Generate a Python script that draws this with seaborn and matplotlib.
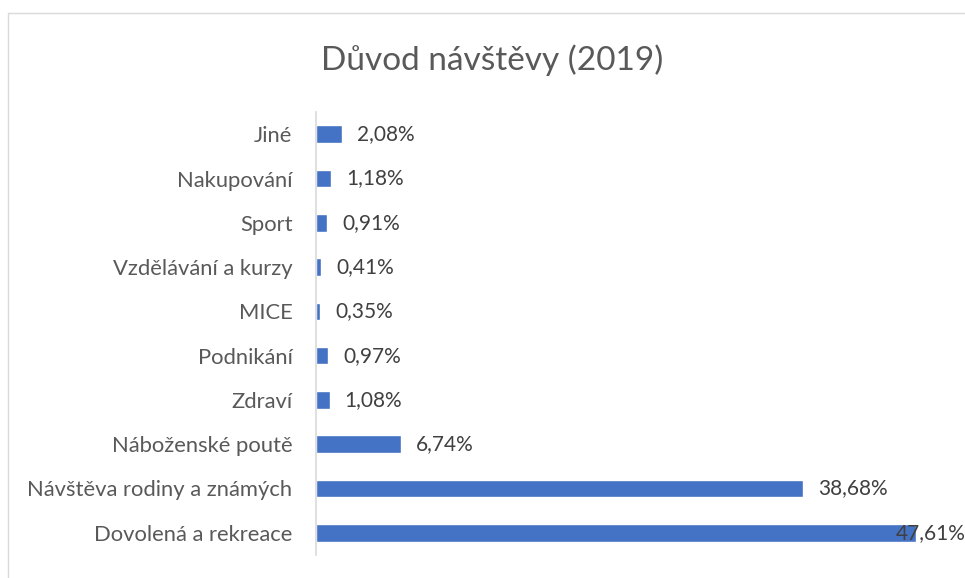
import pandas as pd
import seaborn as sns
import matplotlib.pyplot as plt
from matplotlib.lines import Line2D

# data (top to bottom)
categories = ['Jiné', 'Nakupování', 'Sport', 'Vzdělávání a kurzy', 'MICE',
              'Podnikání', 'Zdraví', 'Náboženské poutě',
              'Návštěva rodiny a známých', 'Dovolená a rekreace']
values = [2.08, 1.18, 0.91, 0.41, 0.35, 0.97, 1.08, 6.74, 38.68, 47.61]
labels = ['2,08%', '1,18%', '0,91%', '0,41%', '0,35%', '0,97%', '1,08%',
          '6,74%', '38,68%', '47,61%']

df = pd.DataFrame({'duvod': categories, 'podil': values})

sns.set_style('white')
plt.rcParams['font.family'] = ['Lato', 'DejaVu Sans']
grey = '#595959'

fig = plt.figure(figsize=(9.65, 5.78), dpi=100)
ax = fig.add_axes([0.3275, 0.04, 0.6525, 0.766])

sns.barplot(data=df, x='podil', y='duvod', color='#4472C4', width=0.4,
            saturation=1, ax=ax)

ax.set_xlim(0, 50)
ax.set_ylim(9.5, -0.5)
ax.set_xlabel('')
ax.set_ylabel('')
ax.set_xticks([])
ax.tick_params(axis='y', length=0, labelsize=15.8, labelcolor=grey, pad=17)

for side in ['top', 'right', 'bottom']:
    ax.spines[side].set_visible(False)
ax.spines['left'].set_color('#D9D9D9')
ax.spines['left'].set_linewidth(1.2)

# value labels, the last one pushed back inside like Excel does
for i, (v, t) in enumerate(zip(values, labels)):
    ax.text(min(v + 1.2, 46.0), i, t, va='center', ha='left',
            fontsize=15, color='#404040', clip_on=False)

fig.suptitle('Důvod návštěvy (2019)', x=0.51, y=0.896, va='center',
             fontsize=24, color=grey)

# chart frame (partly cut off in the original)
fig.add_artist(Line2D([8 / 965, 1], [1 - 13 / 578] * 2, color='#D9D9D9', lw=1))
fig.add_artist(Line2D([8 / 965] * 2, [0, 1 - 13 / 578], color='#D9D9D9', lw=1))

plt.savefig('out.png', dpi=100)
